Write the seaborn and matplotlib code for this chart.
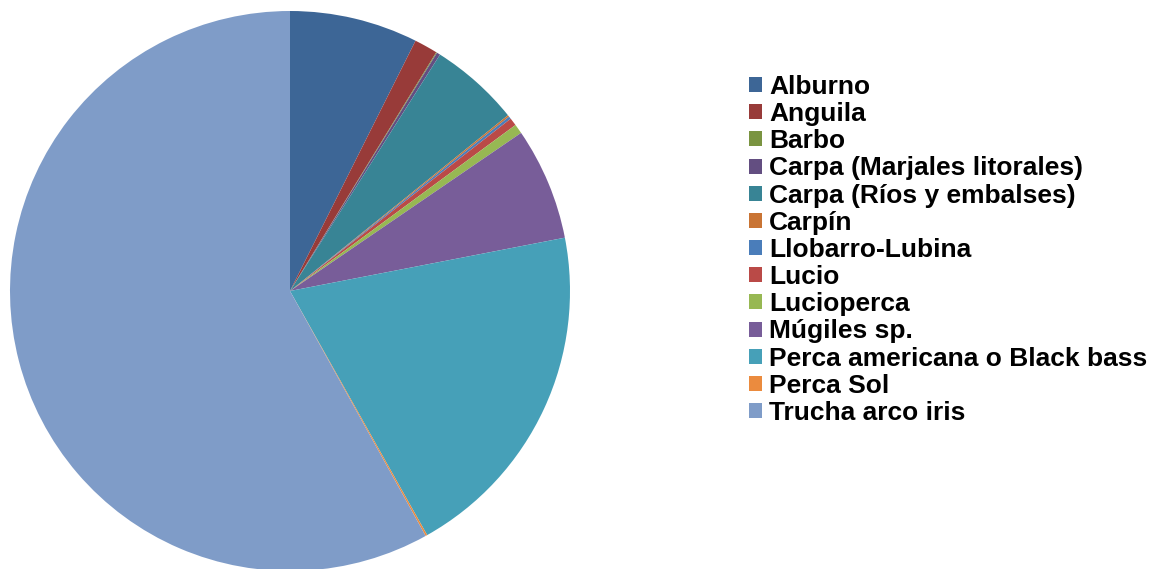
import matplotlib
matplotlib.use("Agg")
import matplotlib.pyplot as plt
import seaborn as sns
from matplotlib.patches import Patch

categories = ["Alburno", "Anguila", "Barbo", "Carpa (Marjales litorales)",
              "Carpa (Ríos y embalses)", "Carpín", "Llobarro-Lubina", "Lucio",
              "Lucioperca", "Múgiles sp.", "Perca americana o Black bass",
              "Perca Sol", "Trucha arco iris"]
values = [7.4, 1.35, 0.05, 0.2, 5.2, 0.1, 0.15, 0.45, 0.55, 6.5, 19.9, 0.1, 58.05]
colors = ["#3D6696", "#983B39", "#7A9441", "#634E81", "#388495", "#C97434",
          "#4A7DBA", "#BA4A47", "#97B853", "#785D99", "#46A0B8", "#EB8B3E",
          "#7F9CC8"]

sns.set_theme(style="white")
sns.set_palette(colors)
plt.rcParams['font.family'] = ['Liberation Sans', 'DejaVu Sans']
plt.rcParams['text.color'] = 'black'

W, H = 1154, 569
fig = plt.figure(figsize=(W / 100, H / 100), dpi=100)
cx, cy, r = 290, 291, 280
ax = fig.add_axes([(cx - r) / W, (H - cy - r) / H, 2 * r / W, 2 * r / H])
ax.pie(values, colors=sns.color_palette(colors), startangle=90, counterclock=False,
       radius=1, wedgeprops=dict(linewidth=0))
ax.set_xlim(-1, 1)
ax.set_ylim(-1, 1)
ax.set_aspect("equal")
ax.axis("off")

handles = [Patch(facecolor=c, edgecolor="none") for c in colors]
leg = fig.legend(handles, categories, loc="upper left",
                 bbox_to_anchor=(749 / W, 1 - 75 / H), frameon=False,
                 prop=dict(family=['Liberation Sans', 'DejaVu Sans'], weight='bold', size=19),
                 handlelength=0.5, handleheight=0.5, handletextpad=0.27,
                 labelspacing=0.12, borderpad=0, borderaxespad=0)
for t in leg.get_texts():
    t.set_color("black")

fig.savefig("out.png", dpi=100)
